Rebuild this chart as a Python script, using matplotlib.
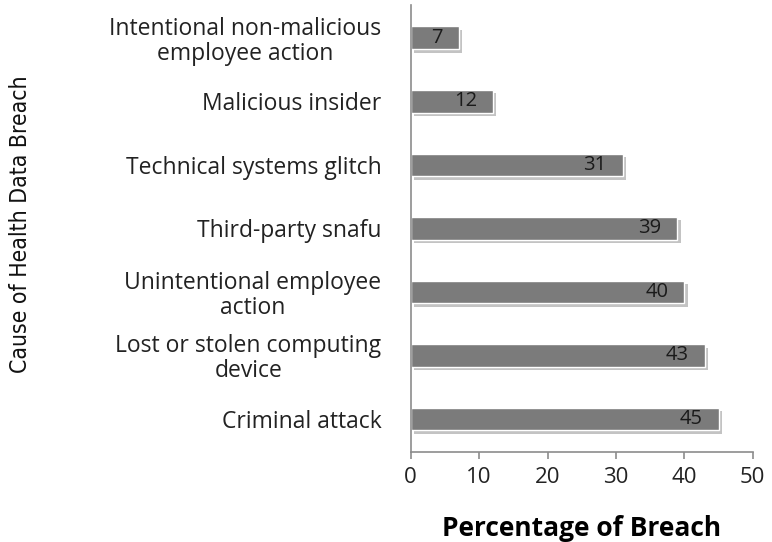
import matplotlib.pyplot as plt
import matplotlib.patheffects as pe
from matplotlib import font_manager

causes = ['Criminal attack',
          'Lost or stolen computing\ndevice',
          'Unintentional employee\naction',
          'Third-party snafu',
          'Technical systems glitch',
          'Malicious insider',
          'Intentional non-malicious\nemployee action']
percent = [45, 43, 40, 39, 31, 12, 7]
xticks = [0, 10, 20, 30, 40, 50]

plt.rcParams['font.family'] = ['Open Sans', 'DejaVu Sans']

fig = plt.figure(figsize=(7.72, 5.42), dpi=100)
ax = fig.add_axes([0.532, 0.166, 0.443, 0.825])

pos = list(range(len(causes)))
bars = ax.barh(pos, percent, height=0.36, color='#7b7b7b', edgecolor='white', linewidth=1)
for b in bars:
    b.set_path_effects([pe.SimplePatchShadow(offset=(2.5, -2.5), shadow_rgbFace='#b5b5b5', alpha=0.8),
                        pe.Normal()])

for p, v in zip(pos, percent):
    ax.annotate(str(v), (v, p), xytext=(-11.5, 0), textcoords='offset points',
                ha='right', va='center', fontsize=14.5, color='#1a1a1a')

ax.set_xlim(0, 50)
ax.set_ylim(-0.52, 6.52)
ax.set_xticks(xticks)
ax.set_yticks(pos)
ax.set_yticklabels(causes, multialignment='center', linespacing=1.05)

for s in ['top', 'right']:
    ax.spines[s].set_visible(False)
for s in ['left', 'bottom']:
    ax.spines[s].set_color('#8c8c8c')
    ax.spines[s].set_linewidth(1.2)

ax.tick_params(axis='y', length=0, pad=21, labelsize=16.5, labelcolor='#222222')
ax.tick_params(axis='x', length=5, width=1.2, color='#8c8c8c', pad=6,
               labelsize=16, labelcolor='#222222')

ax.set_xlabel('Percentage of Breach', fontsize=19, fontweight='bold', labelpad=19)

# vertical axis title
cond = font_manager.FontProperties(family='DejaVu Sans', stretch='condensed', size=16.5)
fig.text(0.027, 0.587, 'Cause of Health Data Breach', rotation=90, ha='center', va='center',
         fontproperties=cond, color='#111111')

fig.savefig('out.png', dpi=100)
